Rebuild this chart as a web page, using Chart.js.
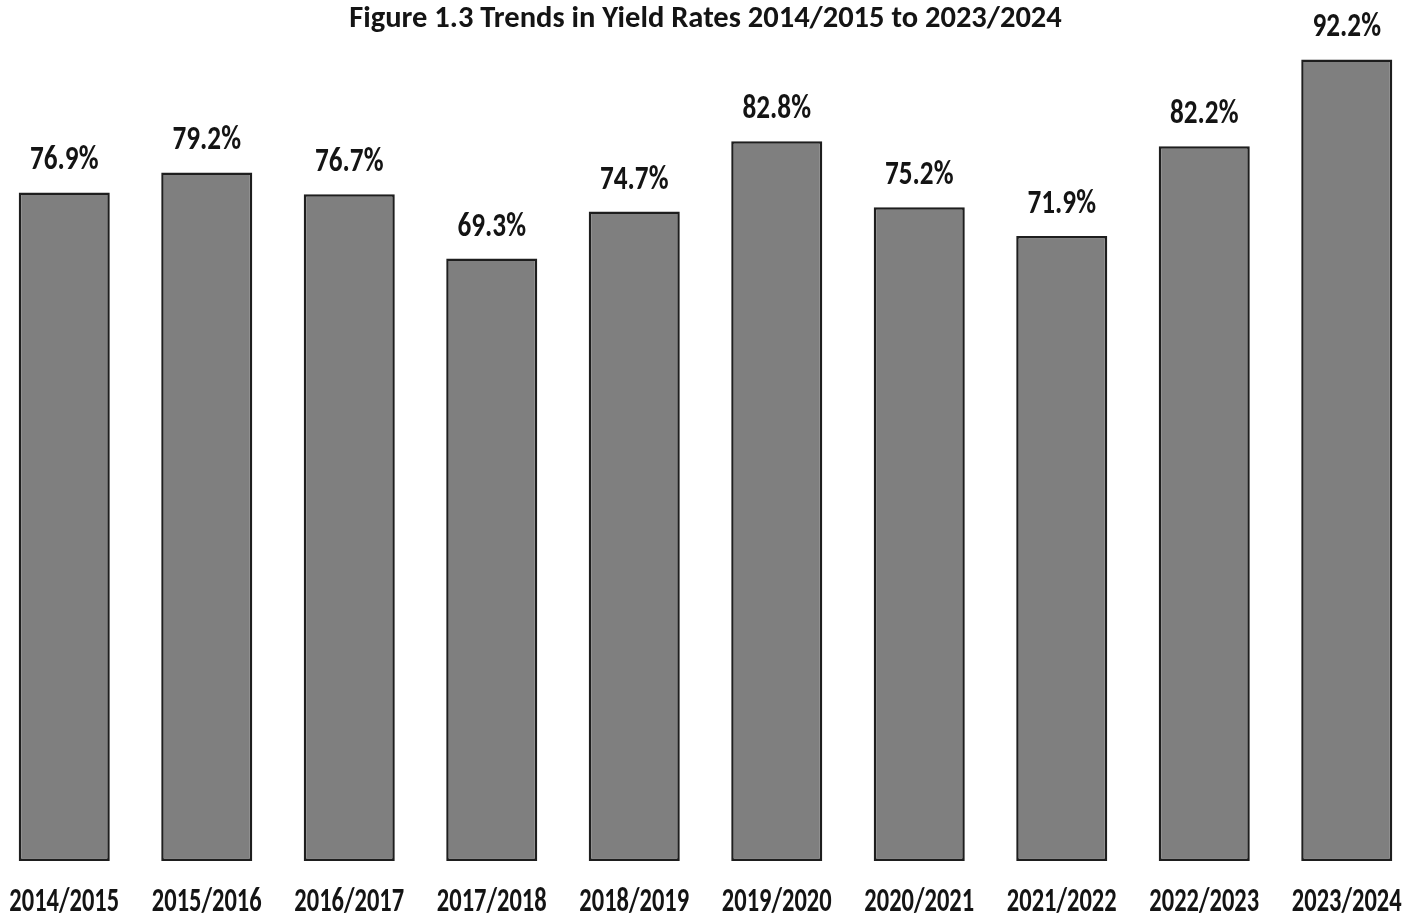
<!DOCTYPE html>
<html>
<head>
<meta charset="utf-8">
<script src="https://cdn.jsdelivr.net/npm/chart.js@4/dist/chart.umd.min.js"></script>
<style>
  html, body { margin: 0; padding: 0; background: #fff; overflow: hidden; width: 1421px; height: 918px; }
  #wrap { position: absolute; left: -7px; top: 0; width: 1425px; height: 918px; }
</style>
</head>
<body>
<div id="wrap"><canvas id="c" width="1425" height="918"></canvas></div>
<script>
const categories = ["2014/2015","2015/2016","2016/2017","2017/2018","2018/2019","2019/2020","2020/2021","2021/2022","2022/2023","2023/2024"];
const yieldRates = [76.9, 79.2, 76.7, 69.3, 74.7, 82.8, 75.2, 71.9, 82.2, 92.2];
const titleText = "Figure 1.3 Trends in Yield Rates 2014/2015 to 2023/2024";

const FONT = 'Carlito, "Liberation Sans Narrow", Lato, sans-serif';
const TEXT_COLOR = '#141414';

// Draws condensed (horizontally squeezed) text, as in the reference.
function squeezedText(ctx, text, x, y, sx) {
  ctx.save();
  ctx.translate(x, y);
  ctx.scale(sx, 1);
  ctx.fillText(text, 0, 0);
  ctx.restore();
}

const labelsPlugin = {
  id: 'labelsPlugin',
  afterDraw(chart) {
    const ctx = chart.ctx;
    const meta = chart.getDatasetMeta(0);
    const xScale = chart.scales.x;
    ctx.save();
    ctx.fillStyle = TEXT_COLOR;
    ctx.textAlign = 'center';
    ctx.textBaseline = 'alphabetic';
    // value labels above bars
    ctx.font = 'bold 34px ' + FONT;
    meta.data.forEach((bar, i) => {
      squeezedText(ctx, yieldRates[i].toFixed(1) + '%', bar.x, bar.y - 23, 0.80);
    });
    // category labels under the axis, at the scale's tick positions
    ctx.font = 'bold 34px ' + FONT;
    categories.forEach((cat, i) => {
      squeezedText(ctx, cat, xScale.getPixelForTick(i), xScale.bottom + 50, 0.72);
    });
    ctx.restore();
  }
};

new Chart(document.getElementById('c'), {
  type: 'bar',
  data: {
    labels: categories,
    datasets: [{
      data: yieldRates,
      backgroundColor: '#7f7f7f',
      borderColor: '#1e1e1e',
      borderWidth: 2.5,
      borderSkipped: false,
      barPercentage: 0.639,
      categoryPercentage: 1.0
    }]
  },
  options: {
    responsive: false,
    animation: false,
    devicePixelRatio: 1,
    layout: { padding: { left: 0, right: 0, top: 0, bottom: 57 } },
    plugins: {
      legend: { display: false },
      tooltip: { enabled: false },
      title: {
        display: true,
        text: titleText,
        color: TEXT_COLOR,
        font: { family: FONT, size: 30.5, weight: 'bold', lineHeight: 1.2 },
        padding: { top: 1, bottom: 4 }
      }
    },
    scales: {
      x: {
        display: true,
        grid: { display: false, drawTicks: false },
        border: { display: false },
        ticks: { display: false }
      },
      y: {
        display: false,
        min: 0,
        max: 94.25
      }
    }
  },
  plugins: [labelsPlugin]
});
</script>
</body>
</html>
